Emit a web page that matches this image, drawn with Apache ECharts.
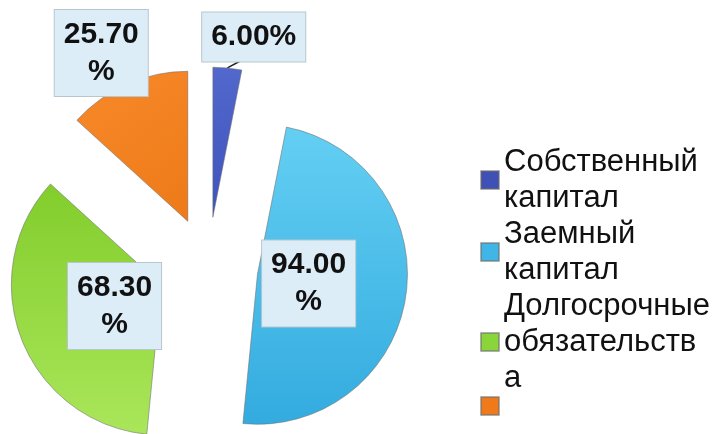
<!DOCTYPE html>
<html>
<head>
<meta charset="utf-8">
<script src="https://cdn.jsdelivr.net/npm/echarts@6/dist/echarts.min.js"></script>
<style>html,body{margin:0;padding:0;background:#fff}#c{width:722px;height:434px}</style>
</head>
<body>
<div id="c"></div>
<script>
// ---- data ----
const categories = ['Собственный капитал', 'Заемный капитал', 'Долгосрочные обязательства', ' '];
const values = [6.00, 94.00, 68.30, 25.70];
const legendLabels = ['Собственный\nкапитал', 'Заемный\nкапитал', 'Долгосрочные\nобязательств\nа', ''];

// ---- styling / layout ----
const sliceColors = [
  {type:'linear',x:0,y:0,x2:0,y2:1,colorStops:[{offset:0,color:'#5268cc'},{offset:1,color:'#3f53bd'}]},
  {type:'linear',x:0,y:0,x2:0,y2:1,colorStops:[{offset:0,color:'#64cff3'},{offset:1,color:'#33abdf'}]},
  {type:'linear',x:0,y:0,x2:0,y2:1,colorStops:[{offset:0,color:'#82cd2c'},{offset:1,color:'#aae65a'}]},
  {type:'linear',x:0,y:0,x2:1,y2:1,colorStops:[{offset:0,color:'#f7892a'},{offset:1,color:'#ee7a18'}]}
];
const legendColors = ['#3f51b5', '#3fb6e6', '#8ad63a', '#ef7a1c'];
const labelBreak = [false, true, true, true];
const labelPos = ['outside', 'inside', 'inside', 'inside'];
const labelShift = [[-45, -23], [-26, -2], [26, -7], [-55, -97]];

const chart = echarts.init(document.getElementById('c'), null, {renderer: 'canvas'});
const FONT = '"Liberation Sans", Arial, sans-serif';

chart.setOption({
  animation: false,
  legend: {
    orient: 'vertical',
    left: 475,
    top: 139,
    itemWidth: 18,
    itemHeight: 18,
    itemGap: 0,
    icon: 'rect',
    selectedMode: false,
    data: categories.map((n, i) => ({name: n, itemStyle: {color: legendColors[i]}})),
    formatter: name => legendLabels[categories.indexOf(name)],
    textStyle: {fontSize: 31, lineHeight: 36, color: '#111', fontFamily: FONT}
  },
  series: [{
    type: 'pie',
    center: [208, 267],
    radius: 150,
    startAngle: 90,
    clockwise: true,
    selectedMode: 'multiple',
    selectedOffset: 50,
    avoidLabelOverlap: false,
    emphasis: {disabled: true},
    itemStyle: {borderColor: 'rgba(110,110,110,0.55)', borderWidth: 1},
    label: {
      show: true,
      formatter: p => values[p.dataIndex].toFixed(2) + (labelBreak[p.dataIndex] ? '\n%' : '%'),
      fontSize: 30,
      fontWeight: 'bold',
      fontFamily: FONT,
      color: '#111',
      lineHeight: 37,
      align: 'center',
      backgroundColor: '#dcedf8',
      borderColor: '#b9c6ce',
      borderWidth: 1,
      padding: [6, 9]
    },
    labelLine: {show: false},
    labelLayout: p => {
      const o = {dx: labelShift[p.dataIndex][0], dy: labelShift[p.dataIndex][1]};
      const pts = p.labelLinePoints;
      if (pts && pts.length >= 3) o.labelLinePoints = [pts[0], pts[2]];
      return o;
    },
    data: categories.map((n, i) => ({
      name: n,
      value: values[i],
      selected: true,
      itemStyle: {color: sliceColors[i]},
      label: {position: labelPos[i]},
      labelLine: labelPos[i] === 'outside' ? {show: true, length: 8, length2: 14, lineStyle: {color: '#222', width: 1.5}} : {show: false}
    }))
  }]
});
</script>
</body>
</html>
